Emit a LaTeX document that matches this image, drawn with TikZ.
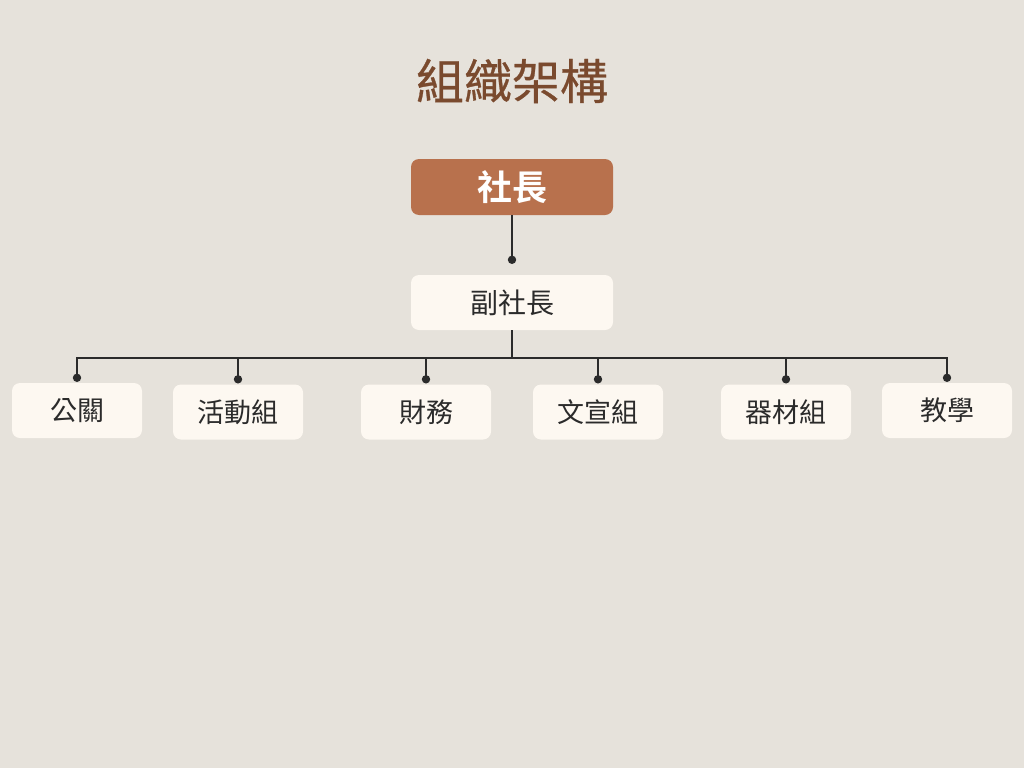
\documentclass[tikz,border=0pt]{standalone}
\usepackage{fontspec}
\newfontfamily\cjk{Noto Sans CJK TC}
\newfontfamily\cjkbold{Noto Sans CJK TC Bold}
\newfontfamily\cjkhead[FakeBold=0.6]{Noto Sans CJK TC}
\definecolor{paper}{HTML}{E6E2DB}
\definecolor{titlebrown}{HTML}{7A4A2E}
\definecolor{bossfill}{HTML}{B8714D}
\definecolor{boxcream}{HTML}{FDF8F1}
\definecolor{ink}{HTML}{2B2B2B}
\tikzset{
  card/.style={fill=boxcream, rounded corners=8pt, inner sep=0pt,
    minimum height=55pt, text=ink},
  bosscard/.style={card, fill=bossfill, text=white, minimum width=202pt,
    minimum height=56pt, font=\cjkbold\fontsize{35}{35}\selectfont},
  vpcard/.style={card, minimum width=202pt, font=\cjk\fontsize{28}{28}\selectfont},
  leaf/.style={card, minimum width=130pt, font=\cjk\fontsize{27}{27}\selectfont},
  wire/.style={draw=ink, line width=1.8pt},
  joint/.style={fill=ink}
}
\begin{document}
\begin{tikzpicture}[x=1pt, y=-1pt]
  % page and backdrop
  \fill[paper] (0,0) rectangle (1024,768);
  \useasboundingbox (0,0) rectangle (1024,768);

  % heading
  \node[font=\cjkhead\fontsize{48}{48}\selectfont, text=titlebrown] (title) at (512,81) {組織架構};

  % top of the hierarchy
  \node[bosscard] (boss) at (512,187) {社長};
  \node[vpcard] (vp) at (512,302.5) {副社長};

  % departments
  \node[leaf] (l1) at (77,410.5) {公關};
  \node[leaf] (l2) at (238,412) {活動組};
  \node[leaf] (l3) at (426,412) {財務};
  \node[leaf] (l4) at (598,412) {文宣組};
  \node[leaf] (l5) at (786,412) {器材組};
  \node[leaf] (l6) at (947,410.5) {教學};

  % president to vice president
  \coordinate (vpdot) at ([yshift=15pt]vp.north);
  \draw[wire] (boss.south) -- (vpdot);
  \fill[joint] (vpdot) circle (4.2);

  % bus from vice president to departments
  \coordinate (bus) at (512,358);
  \draw[wire] (vp.south) -- (bus);
  \foreach \n in {1,...,6} {
    \coordinate (d\n) at ([yshift=5pt]l\n.north);
  }
  \draw[wire] (d1) -- (d1 |- bus) -- (d6 |- bus) -- (d6);
  \foreach \n in {2,...,5} {
    \draw[wire] (d\n |- bus) -- (d\n);
  }
  \foreach \n in {1,...,6} {
    \fill[joint] (d\n) circle (4.2);
  }
\end{tikzpicture}
\end{document}
